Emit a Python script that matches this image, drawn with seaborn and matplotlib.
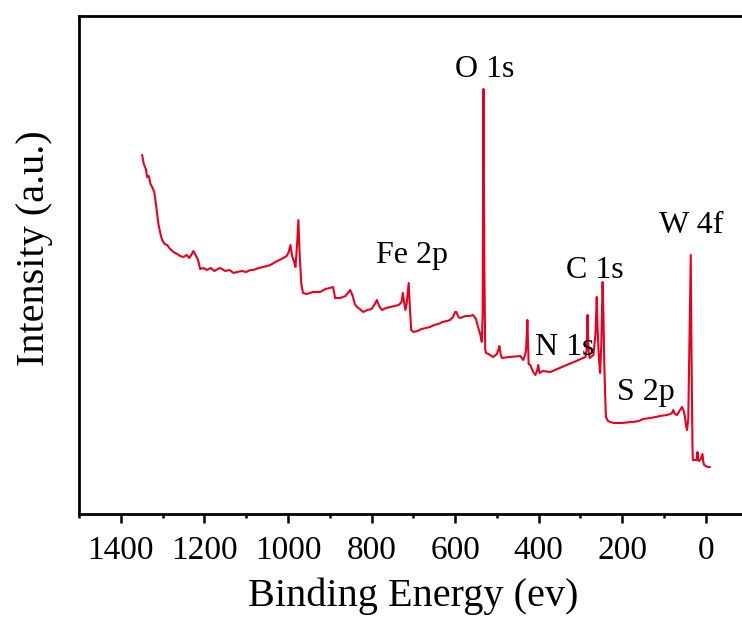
import matplotlib
matplotlib.use("Agg")
import matplotlib.pyplot as plt
from matplotlib.ticker import MultipleLocator
import seaborn as sns
import pandas as pd

binding_energy = [
    1349, 1345, 1340, 1337, 1333, 1329, 1325, 1320, 1315, 1310, 1305, 1301, 1295, 1289,
    1282, 1274, 1265, 1258, 1250, 1242, 1236, 1230, 1226, 1220, 1215, 1210, 1202, 1194,
    1185, 1176, 1168, 1162, 1150, 1140, 1130, 1122, 1110, 1100, 1090, 1083, 1070, 1060,
    1050, 1042, 1030, 1020, 1011, 1003, 998, 994, 990, 985, 982, 978, 975, 972, 968, 964,
    955, 940, 923, 910, 900, 892, 887, 875, 862, 855, 851, 845, 840, 835, 828, 820, 810,
    800, 792, 787, 782, 775, 765, 755, 745, 735, 728, 725, 722, 719, 716, 711, 708, 705,
    700, 690, 680, 670, 660, 650, 640, 630, 620, 612, 605, 600, 597, 592, 588, 575, 565,
    557, 550, 545, 540, 536, 534, 532, 530, 528, 526, 520, 509, 500, 496, 494, 491, 488,
    470, 444, 437, 432, 430, 427, 424, 420, 413, 408, 404, 401, 398, 390, 372, 350, 333,
    310, 294, 288, 285, 283, 281, 278, 272, 269, 264, 261, 259, 256, 253, 250, 247, 245,
    243, 241, 239, 234, 229, 220, 213, 200, 180, 174, 160, 150, 133, 120, 110, 93, 85, 81,
    78, 74, 69, 63, 57, 53, 50, 47, 45, 42, 39, 36, 34, 32, 31, 26, 22, 20, 18, 16, 12, 8,
    6, 4, 0, -5, -10,
]
intensity = [
    359, 350, 345, 337, 338, 330, 327, 322, 307, 290, 280, 274, 270, 269,
    265, 262, 260, 258, 257, 259, 256, 260, 263, 258, 254, 245, 246, 244,
    246, 243, 245, 246, 243, 244, 241, 242, 243, 242, 244, 244, 246, 247,
    248, 249, 252, 254, 256, 258, 262, 269, 258, 252, 247, 270, 294, 260, 230, 221,
    220, 222, 222, 225, 226, 227, 216, 216, 218, 222, 224, 218, 210, 207, 205, 202, 204,
    205, 210, 214, 208, 204, 206, 207, 208, 209, 212, 221, 212, 204, 210, 231, 205, 184,
    182, 183, 185, 186, 187, 189, 190, 192, 193, 194, 197, 202, 202, 197, 196, 198, 198,
    199, 195, 187, 180, 172, 200, 425, 250, 165, 161, 160, 157, 160, 165, 168, 160, 156,
    157, 158, 154, 160, 165, 194, 150, 149, 142, 139, 143, 149, 141, 143, 142, 146, 149,
    153, 156, 157, 165, 199, 165, 156, 158, 159, 180, 217, 185, 157, 141, 170, 232, 200,
    151, 120, 97, 93, 92, 91, 91, 91, 92, 92, 93, 95, 96, 97, 98, 99, 100, 101,
    104, 100, 99, 103, 107, 103, 97, 88, 84, 95, 180, 259, 150, 70, 54, 54, 54, 62, 54, 53, 55, 60,
    52, 49, 48, 47, 47,
]

peak_labels = ["O 1s", "Fe 2p", "C 1s", "N 1s", "S 2p", "W 4f"]
peak_label_x = [528, 703, 265, 337, 143, 35]
peak_label_y = [437, 251, 236, 159, 114, 281]

major_ticks = [1400, 1200, 1000, 800, 600, 400, 200, 0]

sns.set_style("ticks")
plt.rcParams["font.family"] = ["Liberation Serif", "DejaVu Serif"]
plt.rcParams["text.color"] = "black"
plt.rcParams["axes.labelcolor"] = "black"

W, H = 742, 621
fig = plt.figure(figsize=(W / 100, H / 100), dpi=100)
ax = fig.add_axes([79 / W, 107 / H, 668.6 / W, 498 / H])

df = pd.DataFrame({"be": binding_energy, "I": intensity})
sns.lineplot(data=df, x="be", y="I", sort=False, color="#e8001f", linewidth=1.5, ax=ax)

ax.set_xlim(1500, -100)
ax.set_ylim(0, 498)
ax.set_xticks(major_ticks)
ax.set_xticklabels([str(t) for t in major_ticks])
ax.xaxis.set_minor_locator(MultipleLocator(100))
ax.set_yticks([])

for s in ax.spines.values():
    s.set_linewidth(2.0)
    s.set_color("black")

ax.tick_params(axis="x", which="major", direction="out", length=6.5, width=1.8,
               labelsize=24, pad=9, colors="black", labelcolor="black")
ax.tick_params(axis="x", which="minor", direction="out", length=3.2, width=1.8,
               colors="black")

ax.set_xlabel("Binding Energy (ev)", fontsize=29, labelpad=8, color="black")
ax.set_ylabel("Intensity (a.u.)", fontsize=29, color="black")
ax.yaxis.set_label_coords(-0.039, 0.534)

for lab, x, y in zip(peak_labels, peak_label_x, peak_label_y):
    ax.text(x, y, lab, fontsize=23, ha="center", va="baseline", color="black")

fig.savefig("out.png", dpi=100)
